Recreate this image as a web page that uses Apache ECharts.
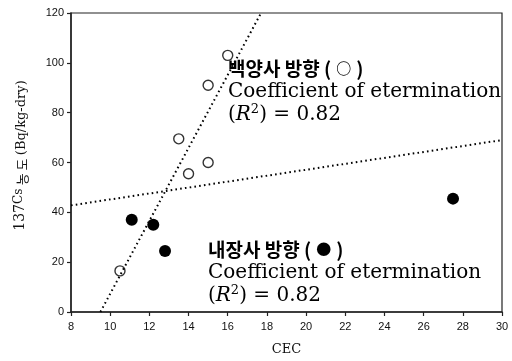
<!DOCTYPE html>
<html><head><meta charset="utf-8">
<script src="https://cdn.jsdelivr.net/npm/echarts@6/dist/echarts.min.js"></script>
<style>html,body{margin:0;padding:0;background:#fff}#c{width:512px;height:361px}</style>
</head><body><div id="c"></div>
<script>
// data
const openPts = [[10.5,16.5],[13.5,69.5],[14,55.5],[15,60],[15,91],[16,103]];
const filledPts = [[11.1,37],[12.2,35],[12.8,24.5],[27.5,45.5]];
const trendOpen = [[9.5,0],[17.7,120]];
const trendFilled = [[8,42.8],[30,69]];
const xRange = [8,30,2];
const yRange = [0,120,20];
const xName = 'CEC';
const noteOpen = ['백양사 방향','○','Coefficient of etermination','0.82'];
const noteFilled = ['내장사 방향','●','Coefficient of etermination','0.82'];

const chart = echarts.init(document.getElementById('c'));
const serif = "'DejaVu Serif','Liberation Serif',serif";
const kr = "'Noto Sans CJK KR',sans-serif";
const richNote = {
  k:{fontFamily:kr,fontSize:19,fontWeight:'bold',color:'#000',lineHeight:23},
  m:{fontFamily:kr,fontSize:15,fontWeight:'bold',color:'#000',lineHeight:23,padding:[0,5,0,5]},
  t:{fontFamily:serif,fontSize:20,color:'#000',lineHeight:23},
  i:{fontFamily:serif,fontSize:20,fontStyle:'italic',color:'#000',lineHeight:23},
  s:{fontFamily:serif,fontSize:13,color:'#000',lineHeight:23,verticalAlign:'top',padding:[0,0,9,0]}
};
function note(l){
  return '{k|'+l[0]+' (}{m|'+l[1]+'}{k|)}\n{t|'+l[2]+'}\n{t|(}{i|R}{s|2}{t|) = '+l[3]+'}';
}
chart.setOption({
  animation:false,
  grid:{left:71,right:10,top:13,bottom:49,show:true,borderColor:'#222',borderWidth:1.2},
  xAxis:{type:'value',min:xRange[0],max:xRange[1],interval:xRange[2],
    name:xName,nameLocation:'middle',nameGap:31,
    nameTextStyle:{fontFamily:serif,fontSize:13,color:'#111'},
    axisLine:{show:true,onZero:false,lineStyle:{color:'#222',width:1.5}},
    axisTick:{show:true,length:4,lineStyle:{color:'#222',width:1.2}},
    axisLabel:{fontFamily:"'Liberation Sans',Arial,sans-serif",fontSize:11,color:'#111',margin:9},
    splitLine:{show:false}},
  yAxis:{type:'value',min:yRange[0],max:yRange[1],interval:yRange[2],
    name:'{a|137}{b|Cs} {c|농 도} {d|(Bq/kg-dry)}',nameLocation:'middle',nameGap:40,nameRotate:90,
    nameTextStyle:{padding:[0,0,0,14],rich:{
      a:{fontFamily:serif,fontSize:14,color:'#111',padding:[0,0,4,0]},
      b:{fontFamily:serif,fontSize:12,color:'#111',padding:[-6,0,0,0]},
      c:{fontFamily:kr,fontSize:13,color:'#111'},
      d:{fontFamily:serif,fontSize:13,color:'#111'}}},
    axisLine:{show:true,onZero:false,lineStyle:{color:'#222',width:1.5}},
    axisTick:{show:true,length:4,lineStyle:{color:'#222',width:1.2}},
    axisLabel:{fontFamily:"'Liberation Sans',Arial,sans-serif",fontSize:11,color:'#111',margin:7},
    splitLine:{show:false}},
  series:[
    {type:'line',data:trendOpen,symbol:'none',silent:true,
      lineStyle:{color:'#000',width:2,type:[1.6,3.2]}},
    {type:'line',data:trendFilled,symbol:'none',silent:true,
      lineStyle:{color:'#000',width:2,type:[1.6,3.2]}},
    {type:'scatter',data:openPts,symbol:'circle',symbolSize:10,
      itemStyle:{color:'#fff',borderColor:'#000',borderWidth:1.4}},
    {type:'scatter',data:filledPts,symbol:'circle',symbolSize:12,
      itemStyle:{color:'#000',opacity:1}}
  ],
  graphic:[
    {type:'text',left:228,top:59,style:{text:note(noteOpen),rich:richNote}},
    {type:'text',left:208,top:240,style:{text:note(noteFilled),rich:richNote}}
  ]
});
</script></body></html>
